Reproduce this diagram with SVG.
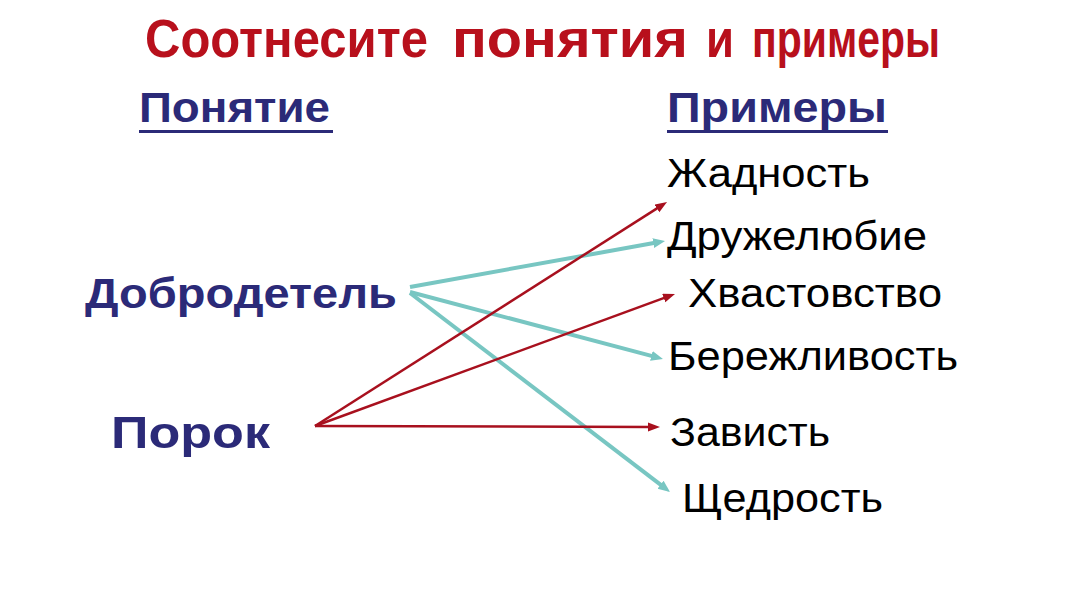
<svg xmlns="http://www.w3.org/2000/svg" width="1067" height="600" viewBox="0 0 1067 600">
<defs>
<style>
.title{font-family:"Liberation Sans",Arial,sans-serif;font-weight:bold;font-size:53px;fill:#B8101C}
.head{font-family:"Liberation Sans",Arial,sans-serif;font-weight:bold;font-size:43px;fill:#2B2A78}
.concept{font-family:"Liberation Sans",Arial,sans-serif;font-weight:bold;font-size:42px;fill:#2B2A78}
.vice{font-size:45px}
.item{font-family:"Liberation Sans",Arial,sans-serif;font-size:40px;fill:#000}
.teal{stroke:#78C6C2;stroke-width:4;fill:none}
.red{stroke:#A8101E;stroke-width:2.5;fill:none}
</style>
<marker id="ahTeal" markerUnits="userSpaceOnUse" markerWidth="13" markerHeight="11" refX="2" refY="5" orient="auto">
<path d="M0,0 L12,5 L0,10 z" fill="#78C6C2"/>
</marker>
<marker id="ahRed" markerUnits="userSpaceOnUse" markerWidth="13" markerHeight="11" refX="2" refY="4.5" orient="auto">
<path d="M0,0 L12,4.5 L0,9 z" fill="#A8101E"/>
</marker>
</defs>
<rect width="1067" height="600" fill="#FFFFFF"/>
<g id="title">
<text class="title" y="57"><tspan x="145" textLength="283" lengthAdjust="spacingAndGlyphs">Соотнесите</tspan> <tspan x="452" textLength="236" lengthAdjust="spacingAndGlyphs">понятия</tspan> <tspan x="706" textLength="28" lengthAdjust="spacingAndGlyphs">и</tspan> <tspan x="752" textLength="188" lengthAdjust="spacingAndGlyphs">примеры</tspan></text>
</g>
<g id="header-concept">
<text class="head" x="139" y="122" textLength="191" lengthAdjust="spacingAndGlyphs">Понятие</text>
<rect x="139" y="130" width="194" height="3" fill="#2B2A78"/>
</g>
<g id="header-examples">
<text class="head" x="667" y="122" textLength="220" lengthAdjust="spacingAndGlyphs">Примеры</text>
<rect x="667" y="130" width="221" height="3" fill="#2B2A78"/>
</g>
<g id="node-virtue">
<text class="concept" x="85" y="308" textLength="312" lengthAdjust="spacingAndGlyphs">Добродетель</text>
</g>
<g id="node-vice">
<text class="concept vice" x="111" y="448" textLength="159" lengthAdjust="spacingAndGlyphs">Порок</text>
</g>
<g id="ex-greed"><text class="item" x="667" y="187" textLength="203" lengthAdjust="spacingAndGlyphs">Жадность</text></g>
<g id="ex-friendliness"><text class="item" x="667" y="250" textLength="260" lengthAdjust="spacingAndGlyphs">Дружелюбие</text></g>
<g id="ex-boasting"><text class="item" x="688" y="307" textLength="254" lengthAdjust="spacingAndGlyphs">Хвастовство</text></g>
<g id="ex-thrift"><text class="item" x="668" y="370" textLength="290" lengthAdjust="spacingAndGlyphs">Бережливость</text></g>
<g id="ex-envy"><text class="item" x="670" y="446" textLength="160" lengthAdjust="spacingAndGlyphs">Зависть</text></g>
<g id="ex-generosity"><text class="item" x="682" y="512" textLength="201" lengthAdjust="spacingAndGlyphs">Щедрость</text></g>
<g id="connectors">
<line class="teal" x1="410" y1="287" x2="655.2" y2="242.8" marker-end="url(#ahTeal)"/>
<line class="teal" x1="410" y1="292" x2="653.3" y2="356.4" marker-end="url(#ahTeal)"/>
<line class="teal" x1="410" y1="293" x2="662.1" y2="485.9" marker-end="url(#ahTeal)"/>
<line class="red" x1="315" y1="426" x2="658.6" y2="207.4" marker-end="url(#ahRed)"/>
<line class="red" x1="315" y1="426" x2="665.6" y2="297.4" marker-end="url(#ahRed)"/>
<line class="red" x1="315" y1="426" x2="650" y2="427" marker-end="url(#ahRed)"/>
</g>
</svg>
